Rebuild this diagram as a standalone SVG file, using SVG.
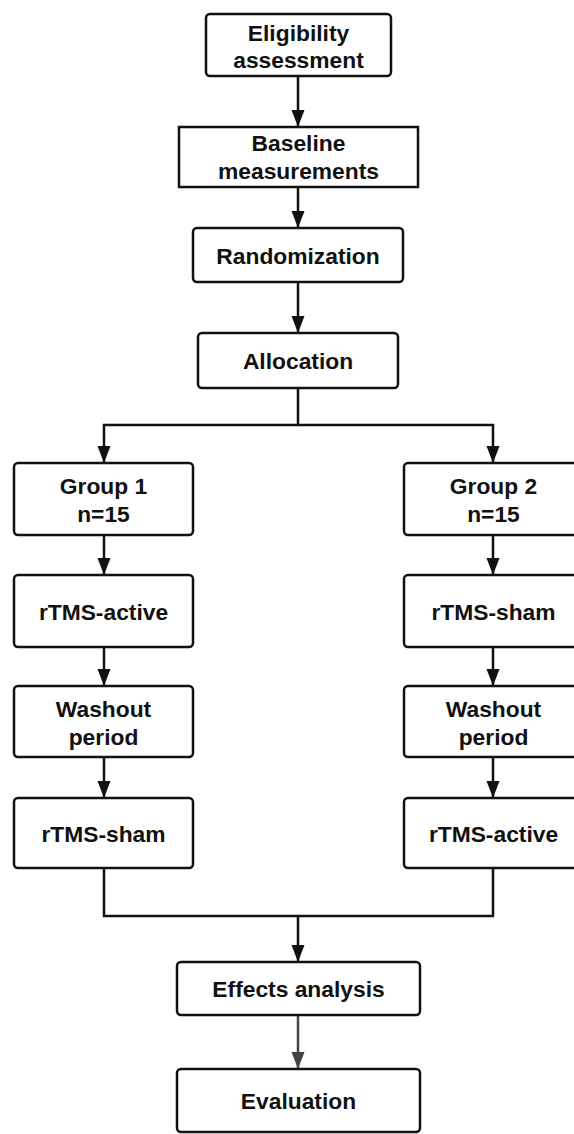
<svg xmlns="http://www.w3.org/2000/svg" width="574" height="1134" viewBox="0 0 574 1134">
<style>
.box{fill:#fff;stroke:#111;stroke-width:2.5}
.t{font-family:"Liberation Sans",Arial,sans-serif;font-weight:bold;font-size:22.8px;text-anchor:middle;fill:#111}
.c{fill:none;stroke:#111;stroke-width:2.5}
.g{fill:none;stroke:#444;stroke-width:2.5}
</style>
<defs>
<marker id="ah" markerUnits="userSpaceOnUse" markerWidth="17" markerHeight="14" refX="17" refY="7" orient="auto" viewBox="0 0 17 14">
<path d="M0,0.5 L17,7 L0,13.5 z" fill="#111"/>
</marker>
<marker id="ahg" markerUnits="userSpaceOnUse" markerWidth="17" markerHeight="14" refX="17" refY="7" orient="auto" viewBox="0 0 17 14">
<path d="M0,0.5 L17,7 L0,13.5 z" fill="#444"/>
</marker>
</defs>
<rect width="574" height="1134" fill="#fff"/>
<g id="connectors">
<path class="c" d="M298,76 V127" marker-end="url(#ah)"/>
<path class="c" d="M298,187 V228" marker-end="url(#ah)"/>
<path class="c" d="M298,282 V333" marker-end="url(#ah)"/>
<path class="c" d="M298,388 V425 H104 V463" marker-end="url(#ah)"/>
<path class="c" d="M298,425 H493 V463" marker-end="url(#ah)"/>
<path class="c" d="M104,535 V575" marker-end="url(#ah)"/>
<path class="c" d="M104,647 V686" marker-end="url(#ah)"/>
<path class="c" d="M104,757 V798" marker-end="url(#ah)"/>
<path class="c" d="M493,535 V575" marker-end="url(#ah)"/>
<path class="c" d="M493,647 V686" marker-end="url(#ah)"/>
<path class="c" d="M493,757 V798" marker-end="url(#ah)"/>
<path class="c" d="M104,868 V916 H493 V868"/>
<path class="c" d="M298,916 V962" marker-end="url(#ah)"/>
<path class="g" d="M298,1015 V1069" marker-end="url(#ahg)"/>
</g>
<g id="eligibility">
<rect class="box" x="206" y="14" width="185" height="62" rx="4"/>
<text class="t" x="298.5" y="40.5">Eligibility</text>
<text class="t" x="298.5" y="68">assessment</text>
</g>
<g id="baseline">
<rect class="box" x="179" y="127" width="239" height="60"/>
<text class="t" x="298.5" y="151">Baseline</text>
<text class="t" x="298.5" y="179">measurements</text>
</g>
<g id="randomization">
<rect class="box" x="193" y="228" width="210" height="54" rx="4"/>
<text class="t" x="298" y="264">Randomization</text>
</g>
<g id="allocation">
<rect class="box" x="198" y="333" width="200" height="55" rx="4"/>
<text class="t" x="298" y="369">Allocation</text>
</g>
<g id="group1">
<rect class="box" x="14" y="463" width="179" height="72" rx="4"/>
<text class="t" x="103.5" y="494">Group 1</text>
<text class="t" x="103.5" y="522">n=15</text>
</g>
<g id="group2">
<rect class="box" x="404" y="463" width="179" height="72" rx="4"/>
<text class="t" x="493.5" y="494">Group 2</text>
<text class="t" x="493.5" y="522">n=15</text>
</g>
<g id="g1-active">
<rect class="box" x="14" y="575" width="179" height="72" rx="4"/>
<text class="t" x="103.5" y="620">rTMS-active</text>
</g>
<g id="g1-washout">
<rect class="box" x="14" y="686" width="179" height="71" rx="4"/>
<text class="t" x="103.5" y="717">Washout</text>
<text class="t" x="103.5" y="745">period</text>
</g>
<g id="g1-sham">
<rect class="box" x="14" y="798" width="179" height="70" rx="4"/>
<text class="t" x="103.5" y="842">rTMS-sham</text>
</g>
<g id="g2-sham">
<rect class="box" x="404" y="575" width="179" height="72" rx="4"/>
<text class="t" x="493.5" y="620">rTMS-sham</text>
</g>
<g id="g2-washout">
<rect class="box" x="404" y="686" width="179" height="71" rx="4"/>
<text class="t" x="493.5" y="717">Washout</text>
<text class="t" x="493.5" y="745">period</text>
</g>
<g id="g2-active">
<rect class="box" x="404" y="798" width="179" height="70" rx="4"/>
<text class="t" x="493.5" y="842">rTMS-active</text>
</g>
<g id="effects">
<rect class="box" x="177" y="962" width="243" height="53" rx="4"/>
<text class="t" x="298.5" y="997">Effects analysis</text>
</g>
<g id="evaluation">
<rect class="box" x="177" y="1069" width="243" height="63" rx="4"/>
<text class="t" x="298.5" y="1109">Evaluation</text>
</g>
</svg>
